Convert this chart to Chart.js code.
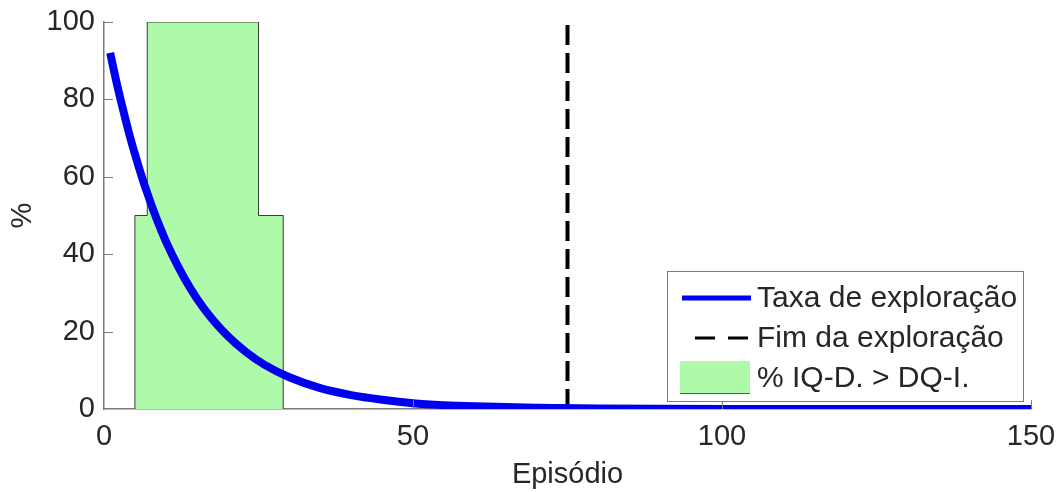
<!DOCTYPE html>
<html>
<head>
<meta charset="utf-8">
<script src="https://cdn.jsdelivr.net/npm/chart.js@4.4.1/dist/chart.umd.min.js"></script>
<style>
  html, body { margin: 0; padding: 0; background: #fff; }
  #wrap { width: 1061px; height: 492px; }
</style>
</head>
<body>
<div id="wrap"><canvas id="grafico"></canvas></div>
<script>
// Taxa de exploração
const episodios = [1, 2, 3, 4, 5, 6, 7, 8, 10, 12, 14, 16, 18, 20, 23, 26, 30, 35, 40, 45, 50, 55, 60, 70, 80, 100, 125, 150];
const taxa = [92, 84.6, 77.9, 71.6, 65.9, 60.6, 55.8, 51.3, 43.4, 36.8, 31.1, 26.3, 22.3, 18.9, 14.7, 11.4, 8.2, 5.4, 3.6, 2.4, 1.5, 1.0, 0.7, 0.3, 0.1, 0, 0, 0];

// Fim da exploração
const fimExploracao = 75;
const fimLimites = [0, 100];

// Histograma % IQ-D. > DQ-I.
const histBordas = [5, 7, 25, 29];
const histAlturas = [50, 100, 50];

// Eixos
const xTicks = [0, 50, 100, 150];
const yTicks = [0, 20, 40, 60, 80, 100];

const fonte = { family: "'Liberation Sans', Arial, sans-serif", size: 29 };
const fonteLegenda = 30;
const corTexto = '#262626';
const corEixo = '#7a7a7a';

Chart.defaults.font.family = fonte.family;
Chart.defaults.color = corTexto;

// pontos do histograma em degraus
const histPontos = [{ x: histBordas[0], y: 0 }];
histAlturas.forEach((h, i) => histPontos.push({ x: histBordas[i], y: h }));
histPontos.push({ x: histBordas[histBordas.length - 1], y: 0 });

// marcas de escala para dentro (estilo MATLAB)
const marcasInternas = {
    id: 'marcasInternas',
    afterDatasetsDraw(chart) {
        const { ctx, scales: { x, y }, chartArea } = chart;
        ctx.save();
        ctx.strokeStyle = corEixo;
        ctx.lineWidth = 1;
        ctx.beginPath();
        yTicks.forEach(v => {
            if (v === 0) return;
            const py = Math.round(y.getPixelForValue(v)) + 0.5;
            ctx.moveTo(chartArea.left, py);
            ctx.lineTo(chartArea.left + 9, py);
        });
        xTicks.forEach(v => {
            if (v === 0) return;
            const px = Math.round(x.getPixelForValue(v)) + 0.5;
            ctx.moveTo(px, chartArea.bottom);
            ctx.lineTo(px, chartArea.bottom - 9);
        });
        ctx.stroke();
        ctx.restore();
    }
};

// legenda dentro da área do gráfico, canto inferior direito
const legendaInterna = {
    id: 'legendaInterna',
    afterDraw(chart) {
        const { ctx, chartArea } = chart;
        const w = 356, h = 130;
        const x0 = chartArea.right - 8 - w;
        const y0 = chartArea.bottom - 8 - h;
        const ds = chart.data.datasets;
        ctx.save();
        ctx.fillStyle = '#fff';
        ctx.fillRect(x0, y0, w, h);
        ctx.strokeStyle = corEixo;
        ctx.lineWidth = 1;
        ctx.strokeRect(x0 + 0.5, y0 + 0.5, w, h);

        ctx.font = fonteLegenda + 'px ' + fonte.family;
        ctx.textBaseline = 'middle';

        const linhas = [y0 + 27, y0 + 67, y0 + 107];
        // linha azul
        ctx.strokeStyle = ds[0].borderColor;
        ctx.lineWidth = 5;
        ctx.beginPath();
        ctx.moveTo(x0 + 15, linhas[0]);
        ctx.lineTo(x0 + 84, linhas[0]);
        ctx.stroke();
        // tracejado
        ctx.strokeStyle = ds[1].borderColor;
        ctx.lineWidth = 3;
        ctx.setLineDash([20, 13]);
        ctx.beginPath();
        ctx.moveTo(x0 + 28, linhas[1]);
        ctx.lineTo(x0 + 82, linhas[1]);
        ctx.stroke();
        ctx.setLineDash([]);
        // caixa verde
        ctx.fillStyle = ds[2].backgroundColor;
        ctx.fillRect(x0 + 13, linhas[2] - 17, 70, 32);
        ctx.strokeStyle = '#555';
        ctx.lineWidth = 1;
        ctx.beginPath();
        ctx.moveTo(x0 + 13, linhas[2] + 15.5);
        ctx.lineTo(x0 + 83, linhas[2] + 15.5);
        ctx.stroke();

        ctx.fillStyle = corTexto;
        ds.forEach((d, i) => ctx.fillText(d.label, x0 + 90, linhas[i] + 1));
        ctx.restore();
    }
};

new Chart(document.getElementById('grafico'), {
    type: 'line',
    data: {
        datasets: [
            {
                label: 'Taxa de exploração',
                data: episodios.map((e, i) => ({ x: e, y: taxa[i] })),
                borderColor: '#0000f0',
                borderWidth: 8,
                cubicInterpolationMode: 'monotone',
                pointRadius: 0,
                fill: false,
                order: 1
            },
            {
                label: 'Fim da exploração',
                data: fimLimites.map(v => ({ x: fimExploracao, y: v })),
                borderColor: '#000000',
                borderWidth: 4,
                borderDash: [20, 8],
                pointRadius: 0,
                fill: false,
                order: 2
            },
            {
                label: '% IQ-D. > DQ-I.',
                data: histPontos,
                stepped: 'before',
                borderColor: '#3a3a3a',
                borderWidth: 1,
                backgroundColor: '#aefaaa',
                fill: 'origin',
                pointRadius: 0,
                order: 3
            }
        ]
    },
    options: {
        responsive: true,
        maintainAspectRatio: false,
        animation: false,
        layout: { padding: { top: 22, right: 30, bottom: 0, left: 0 } },
        plugins: {
            legend: { display: false },
            tooltip: { enabled: false }
        },
        scales: {
            x: {
                type: 'linear',
                min: 0,
                max: 150,
                afterBuildTicks: s => { s.ticks = xTicks.map(v => ({ value: v })); },
                afterFit: s => { s.height = 83; s.paddingLeft = 0; s.paddingRight = 0; },
                grid: { display: true, color: 'rgba(0,0,0,0)', drawTicks: false },
                border: { display: true, color: corEixo, width: 1.5 },
                ticks: { font: fonte, color: corTexto, padding: 11, maxRotation: 0 },
                title: { display: true, text: 'Episódio', font: fonte, color: corTexto, padding: { top: 0, bottom: 0 } }
            },
            y: {
                min: 0,
                max: 100,
                afterBuildTicks: s => { s.ticks = yTicks.map(v => ({ value: v })); },
                afterFit: s => { s.width = 104; s.paddingTop = 0; s.paddingBottom = 0; },
                grid: { display: true, color: 'rgba(0,0,0,0)', drawTicks: false },
                border: { display: true, color: corEixo, width: 1.5 },
                ticks: { font: fonte, color: corTexto, padding: 9 },
                title: { display: true, text: '%', font: fonte, color: corTexto, padding: { top: 6, bottom: 0 } }
            }
        }
    },
    plugins: [marcasInternas, legendaInterna]
});
</script>
</body>
</html>
